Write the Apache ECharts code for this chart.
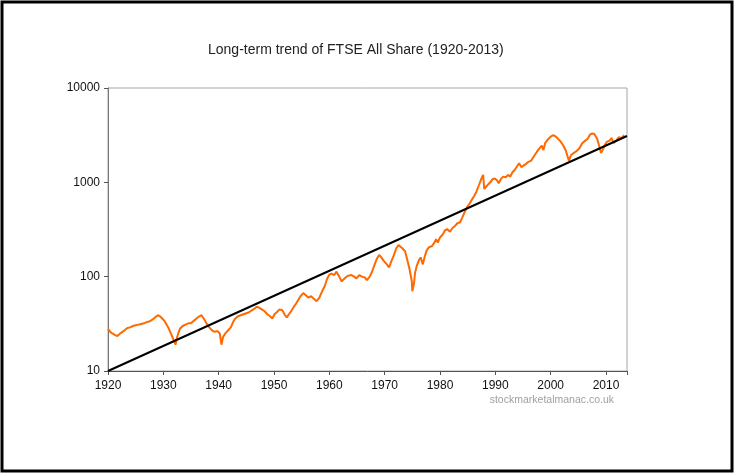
<!DOCTYPE html>
<html><head><meta charset="utf-8">
<script src="https://cdn.jsdelivr.net/npm/echarts@6/dist/echarts.min.js"></script>
<style>html,body{margin:0;padding:0;background:#fff}#c{width:736px;height:476px}</style>
</head><body><div id="c"></div>
<script>
const titleText = 'Long-term trend of FTSE All Share (1920-2013)';
const yTickLabels = [10, 100, 1000, 10000];
const years = [1920.0,1920.4,1920.8,1921.3,1921.7,1922.2,1922.6,1923.0,1923.5,1924.0,1924.5,1925.0,1925.5,1926.0,1926.5,1927.0,1927.5,1928.0,1928.5,1929.0,1929.4,1929.8,1930.2,1930.6,1931.0,1931.5,1931.9,1932.2,1932.4,1932.7,1933.0,1933.5,1934.0,1934.5,1935.0,1935.5,1936.0,1936.5,1936.9,1937.3,1937.8,1938.3,1938.8,1939.3,1939.8,1940.2,1940.5,1940.8,1941.2,1941.7,1942.2,1942.6,1943.0,1943.5,1944.0,1944.5,1945.0,1945.5,1946.0,1946.5,1946.9,1947.3,1947.8,1948.3,1948.8,1949.3,1949.7,1950.1,1950.5,1951.0,1951.5,1952.0,1952.3,1952.7,1953.2,1953.6,1954.0,1954.4,1954.8,1955.3,1955.7,1956.2,1956.7,1957.1,1957.7,1958.2,1958.7,1959.2,1959.6,1960.0,1960.4,1960.9,1961.3,1961.8,1962.2,1962.7,1963.1,1963.6,1964.0,1964.5,1964.9,1965.4,1965.9,1966.4,1966.8,1967.3,1967.7,1968.2,1968.6,1969.0,1969.4,1969.8,1970.4,1970.8,1971.2,1971.6,1972.1,1972.5,1972.8,1973.2,1973.7,1974.1,1974.5,1974.9,1975.0,1975.1,1975.3,1975.5,1975.8,1976.2,1976.5,1976.9,1977.2,1977.6,1978.0,1978.5,1978.9,1979.3,1979.6,1980.0,1980.5,1980.9,1981.3,1981.8,1982.3,1982.7,1983.2,1983.6,1984.0,1984.5,1985.0,1985.4,1985.8,1986.2,1986.6,1987.0,1987.5,1987.8,1988.0,1988.3,1988.7,1989.1,1989.5,1989.9,1990.3,1990.6,1991.0,1991.4,1991.9,1992.3,1992.7,1993.1,1993.5,1994.0,1994.3,1994.7,1995.0,1995.5,1996.0,1996.5,1997.0,1997.5,1998.0,1998.4,1998.7,1999.0,1999.5,2000.0,2000.4,2000.8,2001.2,2001.7,2002.2,2002.7,2003.1,2003.3,2003.7,2004.2,2004.7,2005.2,2005.7,2006.2,2006.7,2007.1,2007.5,2007.9,2008.4,2008.8,2009.1,2009.4,2009.8,2010.2,2010.6,2011.0,2011.4,2011.9,2012.3,2012.8,2013.3];
const ftse = [28,26,25,24,23.5,25,26,27,28.5,29,30,30.5,31,31.5,32,33,33.5,35,37,39,38,36,34,31,28,24,21,19,22,25,28,30,31,32,32,34,36,38,39,36,32,29,27,26,26.5,25,19,23,25,27,29,33,36,38,39,40,41,42,44,46,48,47,45,43,40,38,36,40,42,45,44,39,37,40,44,48,52,57,62,67,64,60,62,59,55,60,70,80,95,105,108,104,113,100,89,95,100,103,104,100,96,104,100,98,92,100,112,135,155,170,160,148,135,125,145,165,200,216,210,200,185,150,120,90,70,68,85,110,130,150,160,135,160,190,205,210,225,250,230,260,280,310,320,300,330,345,370,375,420,490,560,600,660,720,800,920,1100,1200,850,860,950,1000,1080,1100,1050,980,1080,1150,1130,1200,1150,1280,1350,1500,1590,1450,1470,1560,1650,1700,1900,2100,2300,2450,2200,2600,2850,3050,3150,3100,2950,2750,2500,2200,1850,1700,1950,2050,2150,2300,2600,2750,2900,3200,3300,3250,2900,2400,2050,2200,2500,2700,2750,2950,2600,2800,3000,2950,3150];
const trendYears = [1920, 2013.8];
const trendValues = [10, 3100];
const watermark = 'stockmarketalmanac.co.uk';

const chart = echarts.init(document.getElementById('c'), null, {renderer: 'canvas'});
chart.setOption({
  backgroundColor: '#fff',
  animation: false,
  title: {
    text: titleText, left: 203, top: 38,
    textStyle: {fontFamily: 'Liberation Sans, Arial', fontSize: 14, fontWeight: 'normal', color: '#222'}
  },
  graphic: [
    {type: 'rect', shape: {x: 2, y: 2, width: 730, height: 469}, style: {fill: 'none', stroke: '#000', lineWidth: 3}, z: 100},
    {type: 'text', right: 122, top: 395, style: {text: watermark, fill: '#a0a0a0', font: '10.5px Liberation Sans, Arial'}}
  ],
  grid: {left: 108, right: 109, top: 88, bottom: 105, show: true, borderColor: '#a6a6a6', borderWidth: 1},
  xAxis: {
    type: 'value', min: 1920, max: 2013.8, interval: 10,
    axisLine: {show: true, lineStyle: {color: '#555', width: 1}},
    axisTick: {show: true, length: 4, lineStyle: {color: '#555'}},
    splitLine: {show: false},
    axisLabel: {color: '#111', fontFamily: 'Liberation Sans, Arial', fontSize: 12, margin: 9,
      formatter: v => (Math.abs(v - Math.round(v / 10) * 10) < 1e-6 ? String(Math.round(v)) : '')}
  },
  yAxis: {
    type: 'log', logBase: 10, min: yTickLabels[0], max: yTickLabels[yTickLabels.length - 1],
    axisLine: {show: true, lineStyle: {color: '#777', width: 1}},
    axisTick: {show: true, length: 4, lineStyle: {color: '#555'}},
    minorTick: {show: false},
    splitLine: {show: false},
    axisLabel: {color: '#111', fontFamily: 'Liberation Sans, Arial', fontSize: 12, margin: 8,
      formatter: v => String(Math.round(v))}
  },
  series: [
    {type: 'line', data: years.map((y, i) => [y, ftse[i]]), showSymbol: false, symbol: 'none',
      lineStyle: {color: '#ff6a00', width: 2}, z: 2},
    {type: 'line', data: trendYears.map((y, i) => [y, trendValues[i]]), showSymbol: false, symbol: 'none',
      lineStyle: {color: '#000', width: 2}, z: 3}
  ]
});
</script></body></html>
